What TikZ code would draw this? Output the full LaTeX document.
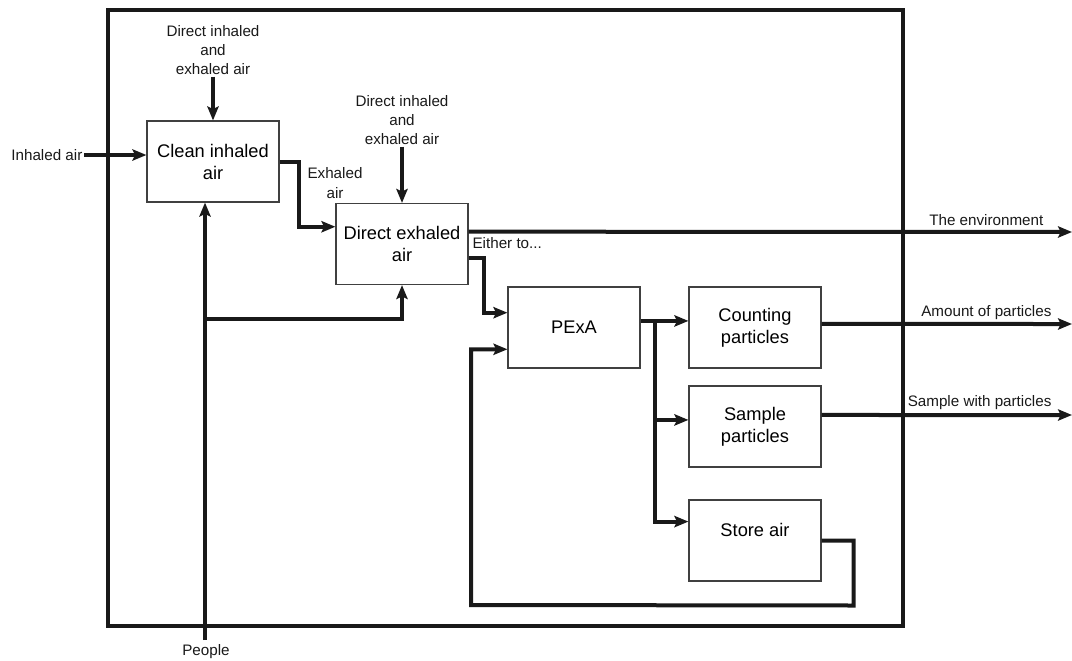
\documentclass[tikz,border=0pt]{standalone}
\usepackage{fontspec}
\setmainfont{Liberation Sans}
\usetikzlibrary{positioning, arrows.meta, calc}

\begin{document}
\begin{tikzpicture}[
    x=0.75pt, y=-0.75pt,
    block/.style={rectangle, draw=black!75, line width=0.9pt, minimum width=99pt, minimum height=60.75pt, align=center, font=\fontsize{13.7}{16.5}\selectfont, inner sep=0pt},
    lbl/.style={align=center, font=\fontsize{11.4}{14.5}\selectfont, inner sep=1pt, text=black!90},
    arrow/.style={-{Stealth[length=10.5pt, width=8.5pt, inset=2pt]}, line width=3pt, draw=black!90},
    flow/.style={line width=3pt, draw=black!90}
]
\useasboundingbox (0,0) rectangle (1072,661);

% system border
\draw[line width=2.6pt, black!90] (108,10) rectangle (903,626);

% blocks
\node[block] (clean) at (213,161.5) {Clean inhaled\\air};
\node[block] (dexh) at (402,244) {Direct exhaled\\air};
\node[block] (pexa) at (574,327.5) {PExA};
\node[block] (count) at (755,327.5) {Counting\\particles};
\node[block] (sample) at (755,426.5) {Sample\\particles};
\node[block] (store) at (755,540.5) {Store air\\~};

% labels
\node[lbl, anchor=east] (inh) at (84,155) {Inhaled air};
\node[lbl] (din1) at (213,50) {Direct inhaled\\and\\exhaled air};
\node[lbl] (din2) at (402,120) {Direct inhaled\\and\\exhaled air};
\node[lbl] (exh) at (335,183) {Exhaled\\air};
\node[lbl, anchor=west] (either) at (471,243) {Either to...};
\node[lbl] (ppl) at (206,652) {People};
\node[lbl, anchor=east] (envlbl) at (1045,220) {The environment};
\node[lbl, anchor=east] (amtlbl) at (1053,313) {Amount of particles};
\node[lbl, anchor=east] (smplbl) at (1053,403) {Sample with particles};

% free ends and bends
\coordinate (people) at (205,640);
\coordinate (pbranch) at (205,319);
\coordinate (split) at (655,321);
\coordinate (fbcorner) at (471,605);
\coordinate (envend) at (1072,232);
\coordinate (amtend) at (1072,324);
\coordinate (smpend) at (1072,415);

% inputs
\draw[arrow] (inh.east) -- (inh.east -| clean.west);
\draw[arrow] (din1.south) -- (clean.north);
\draw[arrow] (din2.south) -- (dexh.north);
\draw[arrow] (people) -- (people |- clean.south);
\draw[arrow] (pbranch) -| (dexh.south);

% clean -> direct exhaled
\draw[arrow] (clean.east) -- ++(19,0) |- ($(dexh.north west)!0.29!(dexh.south west)$);

% direct exhaled -> outputs
\draw[arrow] ($(dexh.north east)!0.35!(dexh.south east)$) -- (envend);
\draw[arrow] ($(dexh.north east)!0.675!(dexh.south east)$) -- ++(15,0) |- ($(pexa.north west)!0.32!(pexa.south west)$);

% PExA -> analysis
\draw[arrow] ($(pexa.north east)!0.42!(pexa.south east)$) -- ($(count.north west)!0.42!(count.south west)$);
\draw[arrow] (split) |- ($(sample.north west)!0.42!(sample.south west)$);
\draw[arrow] (split) |- ($(store.north west)!0.27!(store.south west)$);

\draw[arrow] ($(count.north east)!0.457!(count.south east)$) -- (amtend);
\draw[arrow] ($(sample.north east)!0.36!(sample.south east)$) -- (smpend);

% stored air back to PExA
\draw[arrow] (store.east) -| ++(32,65) -- (fbcorner) |- ($(pexa.north west)!0.765!(pexa.south west)$);

\end{tikzpicture}
\end{document}
